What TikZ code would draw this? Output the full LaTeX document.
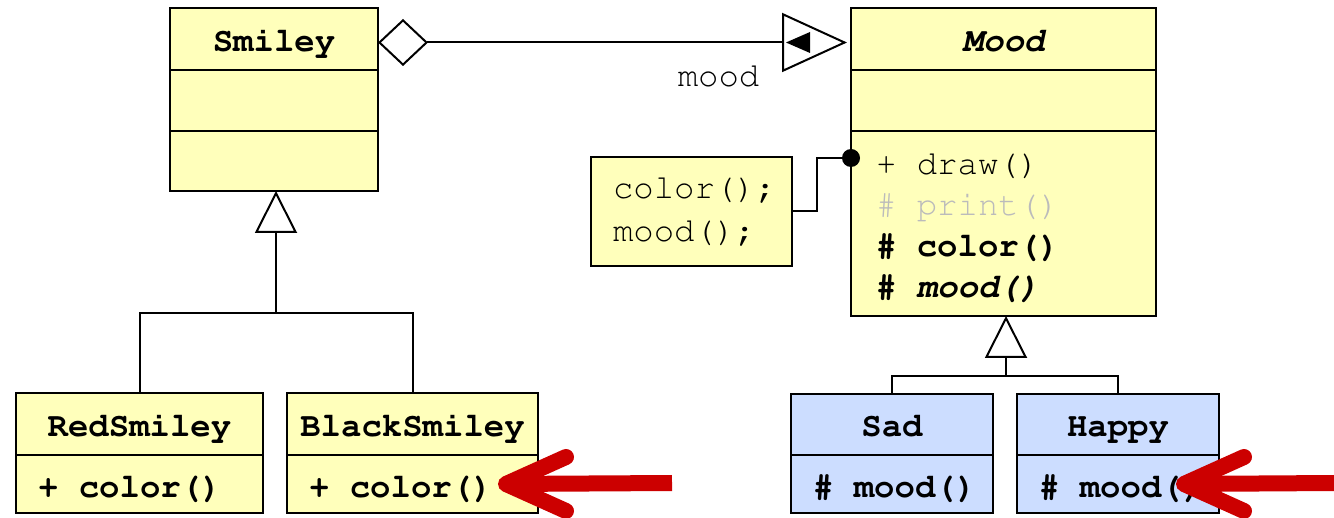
\documentclass[tikz,border=0pt]{standalone}
\usepackage[T1]{fontenc}
\usepackage{courier}
\usetikzlibrary{arrows.meta,positioning}
\definecolor{classyellow}{RGB}{255,255,187}
\definecolor{classblue}{RGB}{204,221,255}
\definecolor{markred}{RGB}{204,0,0}
\definecolor{faded}{RGB}{187,187,187}
\newcommand{\blank}{\hspace*{0.6em}}

\begin{document}
\begin{tikzpicture}[x=1pt, y=-1pt, line width=2pt,
    every node/.style={font=\ttfamily\fontsize{34}{41}\selectfont},
    box/.style={draw, fill=classyellow, line width=2.5pt, outer sep=0pt, inner sep=0pt},
    bluebox/.style={box, fill=classblue},
    title/.style={text height=29pt, text depth=4pt},
    opsbox/.style={align=left, inner xsep=22pt, text height=32pt, text depth=6pt},
    agg/.style={{Diamond[open,length=50pt,width=47pt]}-{Triangle[open,length=65pt,width=59pt]}, shorten >=4pt},
    inherit/.style={-{Triangle[open,length=42pt,width=42pt]}},
    hint/.style={draw=markred, line width=16pt, line cap=round, line join=round}]

\useasboundingbox (0,0) rectangle (1334,518);

% Klasse Smiley
\node[box, title, minimum width=208pt, minimum height=62pt] (smileyname) at (274,39) {\bfseries Smiley};
\node[box, minimum width=208pt, minimum height=61pt, below=0pt of smileyname] (smileyattr) {};
\node[box, minimum width=208pt, minimum height=60pt, below=0pt of smileyattr] (smileyops) {};

% Klasse Mood
\node[box, title, minimum width=305pt, minimum height=62pt] (moodname) at (1003.5,39) {\bfseries\slshape Mood};
\node[box, minimum width=305pt, minimum height=61pt, below=0pt of moodname] (moodattr) {};
\node[box, minimum width=305pt, minimum height=185pt, below=0pt of moodattr] (moodops) {};
\node[anchor=west, align=left, inner sep=0pt] (moodopstext) at ([xshift=24pt,yshift=-3pt]moodops.west)
  {+\blank draw()\\ \textcolor{faded}{\#\blank print()}\\ \textbf{\#\blank color()}\\ \textbf{\#\blank \textsl{mood()}}};

% Notiz
\node[box, align=left, inner xsep=22pt, text width=157pt, minimum height=109pt] (note) at (691.5,211.5) {color();\\[2pt] mood();};

% Unterklassen
\node[box, title, minimum width=247pt, minimum height=62pt] (redname) at (139.5,424) {\bfseries RedSmiley};
\node[box, opsbox, text width=203pt, minimum height=58pt, below=0pt of redname] (redops) {\bfseries +\blank color()};
\node[box, title, minimum width=251pt, minimum height=62pt] (blackname) at (412.5,424) {\bfseries BlackSmiley};
\node[box, opsbox, text width=207pt, minimum height=58pt, below=0pt of blackname] (blackops) {\bfseries +\blank color()};
\node[bluebox, title, minimum width=202pt, minimum height=61pt] (sadname) at (892,424.5) {\bfseries Sad};
\node[bluebox, opsbox, text width=158pt, minimum height=58pt, below=0pt of sadname] (sadops) {\bfseries \#\blank mood()};
\node[bluebox, title, minimum width=202pt, minimum height=61pt] (happyname) at (1118,424.5) {\bfseries Happy};
\node[bluebox, opsbox, text width=158pt, minimum height=58pt, below=0pt of happyname] (happyops) {\bfseries \#\blank mood()};

% Aggregation mit Rollenname
\draw[agg] ([yshift=-3.5pt]smileyname.east) -- ([yshift=-3.5pt]moodname.west) node[pos=0.72, below=18pt] (rolename) {mood};
\fill ([xshift=-41pt,yshift=-3.5pt]moodname.west) -- ++(0,-10.5) -- ++(-24,10.5) -- ++(24,10.5) -- cycle;

% Notiz an draw()
\coordinate (drawop) at ([yshift=-27pt]moodops.north west);
\draw (note.east) -- ++(25,0) |- (drawop);
\fill (drawop) circle (9pt);

% Vererbung
\coordinate (smileyfork) at (276,313);
\draw (redname.north) |- (smileyfork) -| (blackname.north);
\draw[inherit] (smileyfork) -- (smileyfork |- smileyops.south);
\coordinate (moodfork) at (1006,376);
\draw (sadname.north) |- (moodfork) -| (happyname.north);
\draw[inherit] (moodfork) -- (moodfork |- moodops.south);

% Hinweispfeile
\coordinate (blacktip) at ([xshift=-32pt]blackops.east);
\coordinate (happytip) at ([xshift=-35pt]happyops.east);
\draw[hint, line cap=butt] (672,483) -- (blacktip);
\draw[hint] ([shift={(60,-27)}]blacktip) -- (blacktip) -- ++(60,27);
\draw[hint, line cap=butt] (1334,483) -- (happytip);
\draw[hint] ([shift={(60,-27)}]happytip) -- (happytip) -- ++(60,27);
\end{tikzpicture}
\end{document}
